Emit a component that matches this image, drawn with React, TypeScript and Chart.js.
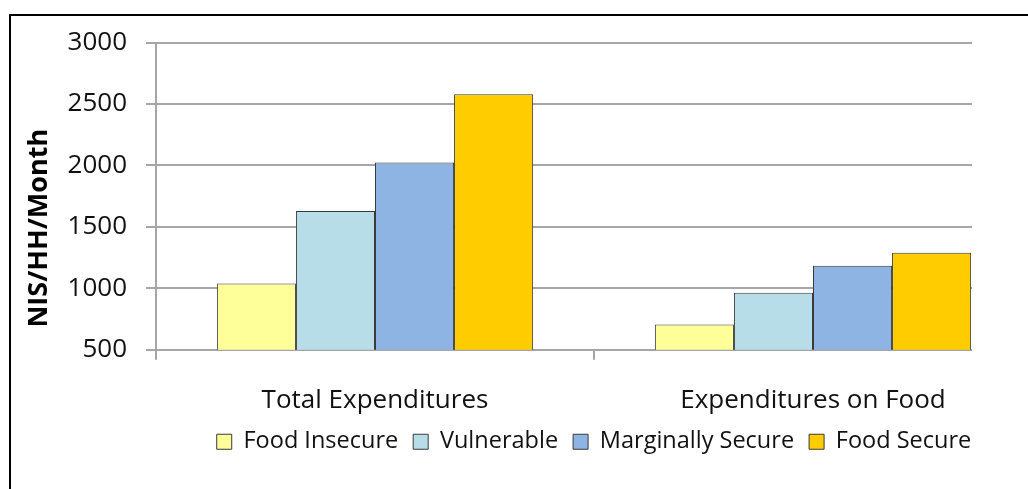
import { useEffect, useRef } from 'react';
import { Chart, registerables } from 'chart.js';

Chart.register(...registerables);

// Monthly household expenditure by food-security group (NIS)
const categories = ['Total Expenditures', 'Expenditures on Food'];
const seriesNames = ['Food Insecure', 'Vulnerable', 'Marginally Secure', 'Food Secure'];
const foodInsecure = [1040, 705];
const vulnerable = [1630, 965];
const marginallySecure = [2025, 1185];
const foodSecure = [2580, 1290];
const yMin = 500;
const yMax = 3000;
const yStep = 500;
const yTitle = 'NIS/HH/Month';

const seriesValues = [foodInsecure, vulnerable, marginallySecure, foodSecure];
const seriesColors = ['#FFFF99', '#B7DEE8', '#8DB4E2', '#FFCC00'];

const FONT = '"Open Sans", "DejaVu Sans", sans-serif';
const GRID = '#a6a6a6';

// Rotated axis title, drawn by hand so it can sit a little below the axis middle
const yTitlePlugin = {
  id: 'yTitleText',
  afterDraw(chart: any) {
    const { ctx, chartArea } = chart;
    ctx.save();
    ctx.translate(31, (chartArea.top + chartArea.bottom) / 2 + 32);
    ctx.rotate(-Math.PI / 2);
    ctx.font = `bold 27px ${FONT}`;
    ctx.fillStyle = '#000';
    ctx.textAlign = 'center';
    ctx.textBaseline = 'middle';
    ctx.fillText(yTitle, 0, 0);
    ctx.restore();
  },
};

export default function App() {
  const canvasRef = useRef<HTMLCanvasElement>(null);

  useEffect(() => {
    const canvas = canvasRef.current;
    if (!canvas) return;
    const chart = new Chart(canvas, {
      type: 'bar',
      data: {
        labels: categories,
        datasets: seriesNames.map((name, i) => ({
          label: name,
          data: seriesValues[i],
          backgroundColor: seriesColors[i],
          borderColor: '#3a3a3a',
          borderWidth: 1,
          categoryPercentage: 0.722,
          barPercentage: 1.0,
        })),
      },
      options: {
        responsive: false,
        animation: false,
        devicePixelRatio: 1,
        layout: { padding: { top: 34, right: 6, left: 0, bottom: 14.5 } },
        plugins: {
          tooltip: { enabled: false },
          legend: {
            position: 'bottom',
            fullSize: false,
            align: 'center',
            labels: {
              font: { family: FONT, size: 23.5 },
              color: '#111',
              boxWidth: 15,
              boxHeight: 15,
              padding: 15,
            },
          },
        },
        scales: {
          x: {
            type: 'category',
            grid: {
              display: true,
              drawOnChartArea: false,
              tickLength: 10,
              color: GRID,
              lineWidth: 2,
            },
            border: { display: true, color: GRID, width: 2 },
            ticks: {
              font: { family: FONT, size: 26 },
              color: '#111',
              padding: 25,
              maxRotation: 0,
              autoSkip: false,
            },
            afterFit(scale: any) {
              // pull the legend up closer to the category labels
              scale.height -= 26;
            },
          },
          y: {
            min: yMin,
            max: yMax,
            grid: {
              color: GRID,
              lineWidth: 2,
              tickLength: 10,
            },
            border: { display: true, color: GRID, width: 2 },
            ticks: {
              stepSize: yStep,
              font: { family: FONT, size: 26 },
              color: '#111',
              padding: 19,
              callback: (value: any) => String(value),
            },
            afterFit(scale: any) {
              scale.width = 148;
            },
          },
        },
      },
      plugins: [yTitlePlugin],
    });
    return () => chart.destroy();
  }, []);

  return (
    <>
      <div
        style={{
          position: 'fixed',
          left: 9,
          top: 14,
          right: 0,
          bottom: 0,
          borderLeft: '2px solid #000',
          borderTop: '2px solid #000',
          pointerEvents: 'none',
        }}
      />
      <div style={{ width: 964, height: 470, overflow: 'hidden' }}>
        <canvas ref={canvasRef} width={1030} height={470} style={{ display: 'block' }} />
      </div>
    </>
  );
}
